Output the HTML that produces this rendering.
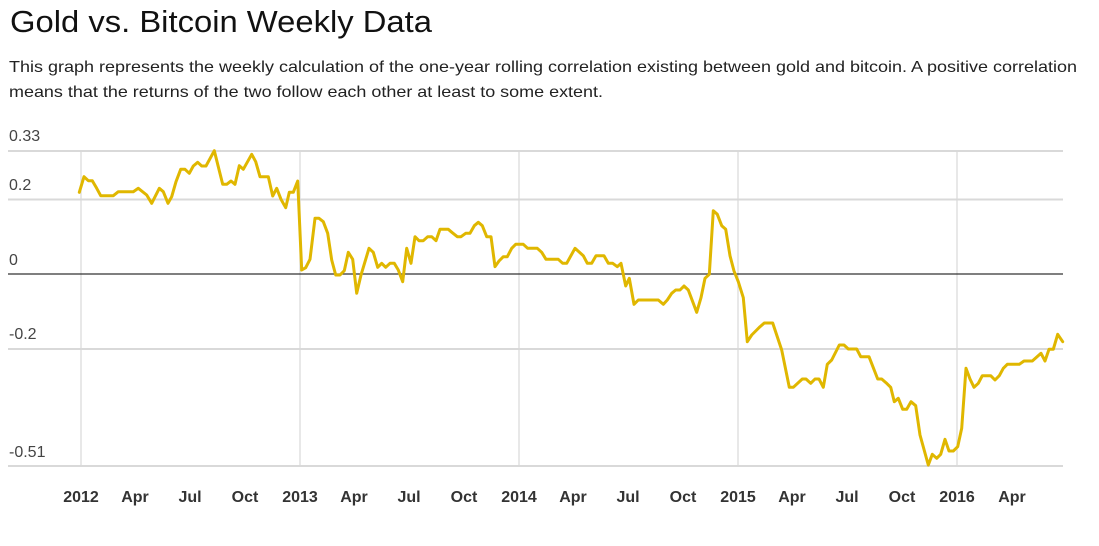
<!DOCTYPE html>
<html>
<head>
<meta charset="utf-8">
<style>
html,body{margin:0;padding:0;background:#fff;}
svg{display:block;}
text{font-family:"Liberation Sans",Arial,sans-serif;}
</style>
</head>
<body>
<svg width="1099" height="546" viewBox="0 0 1099 546" xmlns="http://www.w3.org/2000/svg">
<rect width="1099" height="546" fill="#fff"/>
<text x="10" y="32" font-size="31" fill="#111" textLength="422" lengthAdjust="spacingAndGlyphs">Gold vs. Bitcoin Weekly Data</text>
<text x="9" y="72" font-size="16" fill="#222" textLength="1068" lengthAdjust="spacingAndGlyphs">This graph represents the weekly calculation of the one-year rolling correlation existing between gold and bitcoin. A positive correlation</text>
<text x="9" y="97" font-size="16" fill="#222" textLength="594" lengthAdjust="spacingAndGlyphs">means that the returns of the two follow each other at least to some extent.</text>

<!-- horizontal gridlines -->
<g stroke="#d9d9d9" stroke-width="2">
<line x1="8" y1="151" x2="1063" y2="151"/>
<line x1="8" y1="199.5" x2="1063" y2="199.5"/>
<line x1="8" y1="349" x2="1063" y2="349"/>
<line x1="8" y1="466" x2="1063" y2="466"/>
</g>
<!-- vertical gridlines -->
<g stroke="#d9d9d9" stroke-width="1.2">
<line x1="81" y1="151" x2="81" y2="466"/>
<line x1="300" y1="151" x2="300" y2="466"/>
<line x1="519" y1="151" x2="519" y2="466"/>
<line x1="738" y1="151" x2="738" y2="466"/>
<line x1="957" y1="151" x2="957" y2="466"/>
</g>
<line x1="8" y1="274" x2="1063" y2="274" stroke="#333" stroke-width="1.2"/>

<!-- y labels -->
<g font-size="16" fill="#444">
<text x="9" y="141">0.33</text>
<text x="9" y="190">0.2</text>
<text x="9" y="265">0</text>
<text x="9" y="339">-0.2</text>
<text x="9" y="457">-0.51</text>
</g>

<!-- x labels -->
<g font-size="16" font-weight="bold" fill="#333" text-anchor="middle">
<text x="81" y="502">2012</text>
<text x="135" y="502">Apr</text>
<text x="190" y="502">Jul</text>
<text x="245" y="502">Oct</text>
<text x="300" y="502">2013</text>
<text x="354" y="502">Apr</text>
<text x="409" y="502">Jul</text>
<text x="464" y="502">Oct</text>
<text x="519" y="502">2014</text>
<text x="573" y="502">Apr</text>
<text x="628" y="502">Jul</text>
<text x="683" y="502">Oct</text>
<text x="738" y="502">2015</text>
<text x="792" y="502">Apr</text>
<text x="847" y="502">Jul</text>
<text x="902" y="502">Oct</text>
<text x="957" y="502">2016</text>
<text x="1012" y="502">Apr</text>
</g>

<polyline fill="none" stroke="#e0b700" stroke-width="3" stroke-linejoin="round" stroke-linecap="round" points="
79.3,192.3 84,176.7 88.3,180.7 92.3,180.7 96.7,188.3 100.7,195.7 113.3,195.7 118.3,191.7 133.3,191.7 138.3,188.3
146.7,195 151.7,203.3 159.3,188.3 163.3,191.7 168,203.3 171.7,196.7 176,181.7 180.7,169.3 185,169.3 189.3,173.3
193.3,166 197.7,162.3 201.7,166 206,166 214.3,150.7 218.3,166.7 222.7,184.3 226.7,184.3 231,181 235,184.3
239.3,165.7 243.3,169.3 251.7,154.3 255.7,161.7 260,176.7 268.3,176.7 272.7,196 276.7,188.3 281,199.3 285.7,207.7
289.3,192.3 293.3,192.3 297.7,181 301.7,270 305.7,267.7 310,259.3 315,218.3 319,218.3 323.3,221.7 327.7,233.3
331.7,260 335.7,275 340,275 344.3,270.7 348.3,252.3 352.7,259.3 356.7,293.3 361,275 365,261.7 369,248.3
373.3,252.3 377.7,267.3 381.7,263.3 385.7,267.3 390,263.3 394.3,263.3 398.3,270 402.7,281.7 406.7,248.3 411,263.3
415,236.7 419,240.7 423.3,240.7 427.7,236.7 431.7,236.7 436,240.7 440,229.3 448.3,229.3 452.3,232.7 457.3,236.7
461,236.7 465.7,233.3 470,233.3 474.3,225.7 478.3,222.3 482.3,225.7 486.7,236.7 491,236.7 495,266.7 499,261
503.3,256.7 507.3,256.7 511.7,248.3 515.7,244.3 523.3,244.3 527.7,248.3 537.3,248.3 541.7,252.3 546,259.3 558.3,259.3
562.7,263.3 566.7,263.3 575,248.3 583.3,255.7 587.3,263.3 591.7,263.3 596,255.7 604,255.7 608.3,263.3 612.7,263.3
617.3,266.7 621,263.3 625.7,286 629.3,278.3 634,304.3 638.3,300 658.3,300 663.3,304.3 667.3,300 671.7,293.3
675.7,290 680,290 684,286 688.3,290 696.7,312.3 701,297.7 705,278.3 709.3,274.3 713.3,210.7 717.3,214.3
721.7,225.7 725.7,229.3 730,255.7 734,271 738.3,281.7 743.3,297.7 747.3,341.7 751.7,335 755.7,331 760,326.7
764.3,323 772.7,323 776.7,335 781.7,350 789.3,387.3 793.3,387.3 802.3,379 806,379 810.7,383.3 815,379
819,379 823.3,387.3 827.3,364.3 831.7,360 839.3,345 844,345 848.3,349 856.7,349 860.7,356.7 869,356.7
877.7,379 881.7,379 886,382.7 890.7,387.3 894.3,401.7 898.3,398.3 902.7,409.3 906.7,409.3 911,401.7 915.7,405.7
920,435 928.3,465 932.3,454.3 936.7,458.3 940.7,454.3 945,439.3 949,451 953.3,451 957.7,446.7 961.7,428.3
966,368.3 970,379 974,387.3 978.3,383.3 982.3,375.7 990.7,375.7 995,380 999.3,375.7 1003.3,368.3 1007.3,364.3
1019.3,364.3 1024,361 1032.3,361 1041,353.3 1045,361 1049,349.3 1053.3,349.3 1057.7,334.3 1062.7,341.7"/>
</svg>
</body>
</html>
